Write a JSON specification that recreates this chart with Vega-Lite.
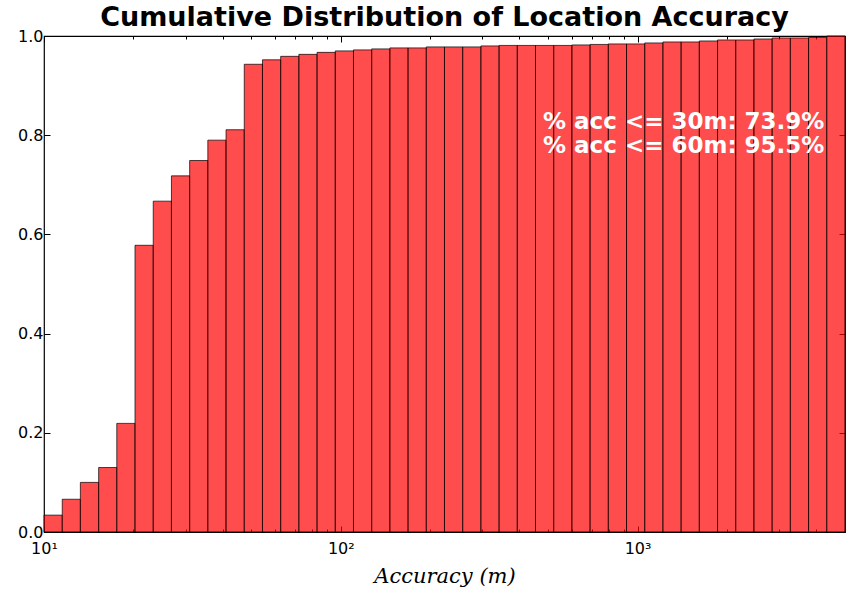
{
  "$schema": "https://vega.github.io/schema/vega-lite/v6.json",
  "width": 801,
  "height": 496,
  "autosize": "none",
  "padding": {"left": 44, "top": 36, "right": 4, "bottom": 62},
  "background": "white",
  "title": {"text": "Cumulative Distribution of Location Accuracy", "font": "DejaVu Sans", "fontSize": 27, "fontWeight": "bold", "color": "black", "offset": 0, "dy": 4, "anchor": "middle"},
  "config": {
    "view": {"stroke": "black", "strokeWidth": 1.2},
    "axis": {"labelFont": "DejaVu Sans", "labelFontSize": 16, "labelColor": "black", "tickColor": "black", "domain": false, "grid": false, "zindex": 1}
  },
  "datasets": {
    "bins": [
      {"lo": 10, "hi": 11.52, "cum": 0.034},
      {"lo": 11.52, "hi": 13.26, "cum": 0.066},
      {"lo": 13.26, "hi": 15.28, "cum": 0.100},
      {"lo": 15.28, "hi": 17.59, "cum": 0.130},
      {"lo": 17.59, "hi": 20.26, "cum": 0.219},
      {"lo": 20.26, "hi": 23.34, "cum": 0.578},
      {"lo": 23.34, "hi": 26.88, "cum": 0.667},
      {"lo": 26.88, "hi": 30.96, "cum": 0.718},
      {"lo": 30.96, "hi": 35.65, "cum": 0.749},
      {"lo": 35.65, "hi": 41.06, "cum": 0.790},
      {"lo": 41.06, "hi": 47.29, "cum": 0.811},
      {"lo": 47.29, "hi": 54.47, "cum": 0.943},
      {"lo": 54.47, "hi": 62.73, "cum": 0.952},
      {"lo": 62.73, "hi": 72.25, "cum": 0.959},
      {"lo": 72.25, "hi": 83.21, "cum": 0.963},
      {"lo": 83.21, "hi": 95.83, "cum": 0.967},
      {"lo": 95.83, "hi": 110.36, "cum": 0.970},
      {"lo": 110.36, "hi": 127.10, "cum": 0.972},
      {"lo": 127.10, "hi": 146.38, "cum": 0.974},
      {"lo": 146.38, "hi": 168.58, "cum": 0.976},
      {"lo": 168.58, "hi": 194.15, "cum": 0.976},
      {"lo": 194.15, "hi": 223.60, "cum": 0.978},
      {"lo": 223.60, "hi": 257.52, "cum": 0.978},
      {"lo": 257.52, "hi": 296.58, "cum": 0.978},
      {"lo": 296.58, "hi": 341.57, "cum": 0.980},
      {"lo": 341.57, "hi": 393.37, "cum": 0.981},
      {"lo": 393.37, "hi": 453.04, "cum": 0.981},
      {"lo": 453.04, "hi": 521.76, "cum": 0.981},
      {"lo": 521.76, "hi": 600.9, "cum": 0.981},
      {"lo": 600.9, "hi": 692.0, "cum": 0.982},
      {"lo": 692.0, "hi": 797.0, "cum": 0.983},
      {"lo": 797.0, "hi": 917.9, "cum": 0.984},
      {"lo": 917.9, "hi": 1057.3, "cum": 0.984},
      {"lo": 1057.3, "hi": 1217.6, "cum": 0.986},
      {"lo": 1217.6, "hi": 1402.3, "cum": 0.988},
      {"lo": 1402.3, "hi": 1615.0, "cum": 0.988},
      {"lo": 1615.0, "hi": 1860.0, "cum": 0.990},
      {"lo": 1860.0, "hi": 2142.1, "cum": 0.992},
      {"lo": 2142.1, "hi": 2467.0, "cum": 0.992},
      {"lo": 2467.0, "hi": 2841.2, "cum": 0.994},
      {"lo": 2841.2, "hi": 3272.2, "cum": 0.996},
      {"lo": 3272.2, "hi": 3768.5, "cum": 0.996},
      {"lo": 3768.5, "hi": 4340.1, "cum": 0.997},
      {"lo": 4340.1, "hi": 5000, "cum": 1.0}
    ],
    "notes": [
      {"xt": 4262, "yt": 0.8117, "label": "% acc <= 30m: 73.9%"},
      {"xt": 4262, "yt": 0.764, "label": "% acc <= 60m: 95.5%"}
    ]
  },
  "layer": [
    {
      "data": {"name": "bins"},
      "mark": {"type": "rect", "fill": "#ff0000", "fillOpacity": 0.7, "stroke": "#000000", "strokeOpacity": 0.7, "strokeWidth": 1},
      "encoding": {
        "x": {"field": "lo", "type": "quantitative",
              "scale": {"type": "log", "domain": [10, 5000], "nice": false},
              "axis": {"orient": "bottom", "values": [10,20,30,40,50,60,70,80,90,100,200,300,400,500,600,700,800,900,1000,2000,3000,4000],
                       "labelExpr": "datum.value == 10 ? '10¹' : datum.value == 100 ? '10²' : datum.value == 1000 ? '10³' : ''",
                       "tickSize": {"condition": {"test": "datum.value == 10 || datum.value == 100 || datum.value == 1000", "value": -6}, "value": -3},
                       "labelPadding": 14, "labelFlush": false, "labelOverlap": false,
                       "title": "Accuracy (m)", "titleFont": "DejaVu Serif", "titleFontStyle": "italic", "titleFontWeight": "normal", "titleFontSize": 21, "titleColor": "black", "titlePadding": 6}},
        "x2": {"field": "hi"},
        "y": {"field": "cum", "type": "quantitative",
              "scale": {"domain": [0, 1], "nice": false},
              "axis": {"orient": "left", "values": [0, 0.2, 0.4, 0.6, 0.8, 1.0], "format": ".1f", "tickSize": -6, "labelPadding": 7, "title": null}},
        "y2": {"datum": 0}
      }
    },
    {
      "data": {"name": "notes"},
      "mark": {"type": "text", "align": "right", "baseline": "alphabetic", "font": "DejaVu Sans", "fontWeight": "bold", "fontSize": 23, "color": "white"},
      "encoding": {
        "x": {"field": "xt", "type": "quantitative",
              "axis": {"orient": "top", "values": [10,20,30,40,50,60,70,80,90,100,200,300,400,500,600,700,800,900,1000,2000,3000,4000],
                       "labels": false, "title": null,
                       "tickSize": {"condition": {"test": "datum.value == 10 || datum.value == 100 || datum.value == 1000", "value": -6}, "value": -3}}},
        "y": {"field": "yt", "type": "quantitative",
              "axis": {"orient": "right", "values": [0, 0.2, 0.4, 0.6, 0.8, 1.0], "labels": false, "tickSize": -6, "title": null}},
        "text": {"field": "label"}
      }
    }
  ],
  "resolve": {"axis": {"x": "independent", "y": "independent"}}
}
